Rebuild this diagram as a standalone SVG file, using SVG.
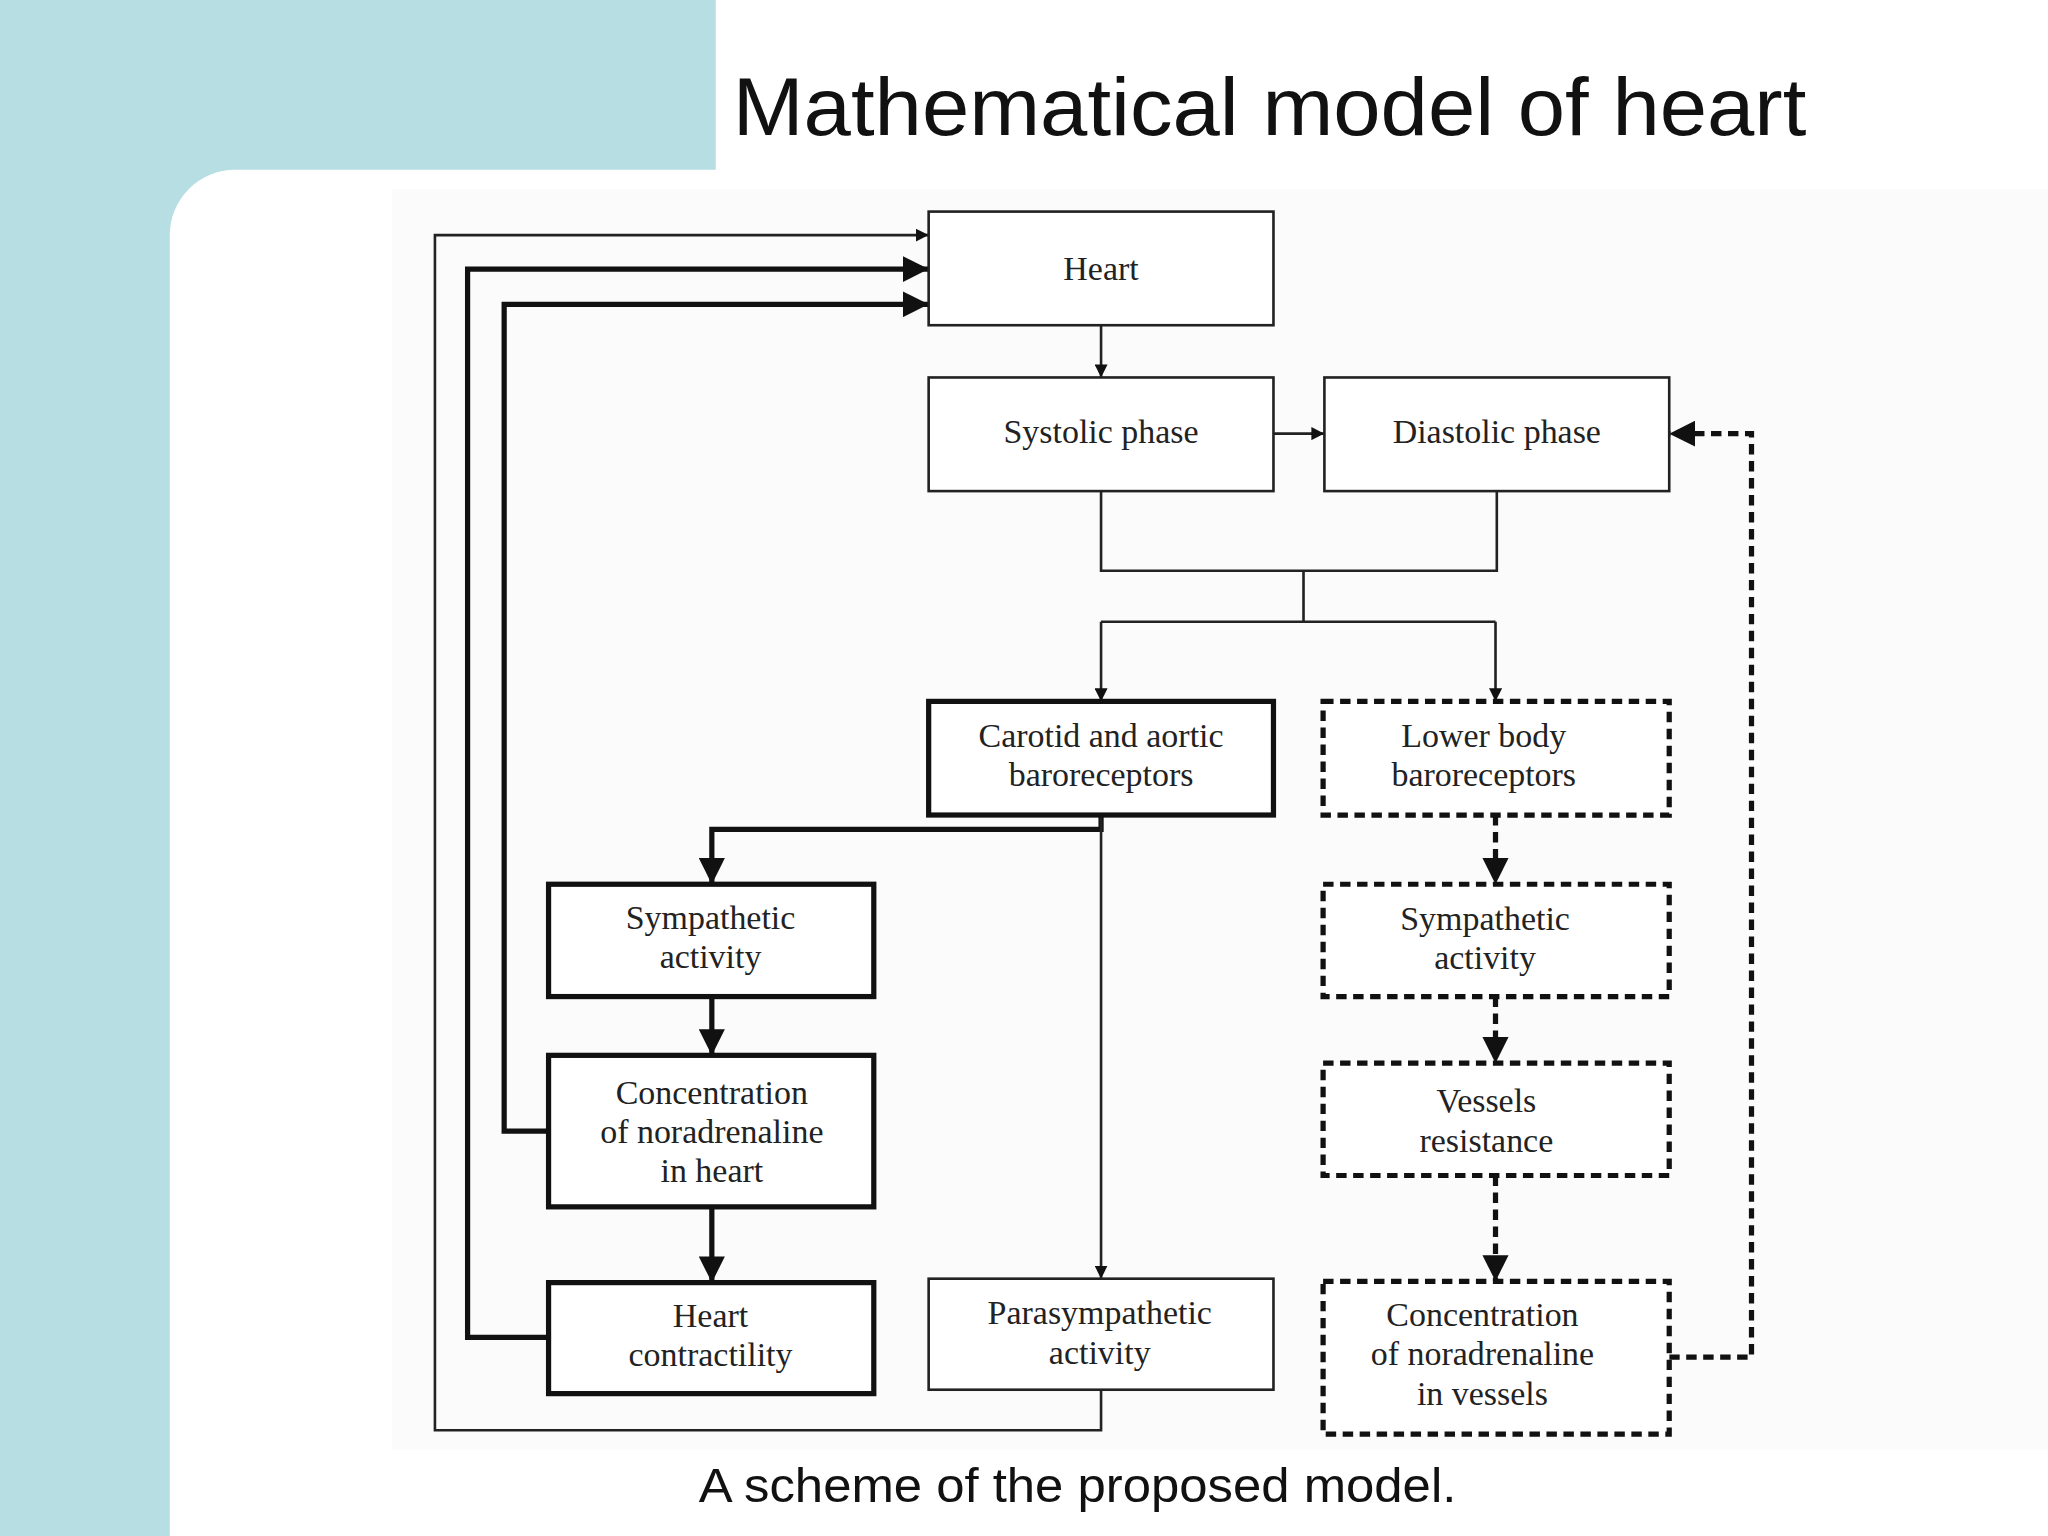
<svg xmlns="http://www.w3.org/2000/svg" width="2048" height="1536" viewBox="0 0 2048 1536">
<defs>
<style>
.n{fill:#fff;stroke:#222;stroke-width:2}
.k{fill:#fff;stroke:#111;stroke-width:4}
.d{fill:#fff;stroke:#111;stroke-width:4;stroke-dasharray:8 5}
.t{font-family:"Liberation Serif",serif;font-size:26px;fill:#222;text-anchor:middle}
.c{fill:none;stroke:#222;stroke-width:2}
.ck{fill:none;stroke:#111;stroke-width:4}
.cd{fill:none;stroke:#111;stroke-width:4;stroke-dasharray:8 5}
</style>
<marker id="b" viewBox="0 0 10 10" refX="10" refY="5" markerWidth="5" markerHeight="5" orient="auto"><path d="M0,0L10,5L0,10z" fill="#111"/></marker>
</defs>
<rect width="2048" height="1536" fill="#b7dfe3"/>
<g transform="scale(1.30612)">
<path d="M548,0H1568V1176H130V180A50,50 0 0 1 180,130H548z" fill="#fff"/>
<rect x="300" y="145" width="1268" height="965" fill="#fbfbfb"/>
<text x="561" y="103" font-family="Liberation Sans,Arial,sans-serif" font-size="63" fill="#111" textLength="822" lengthAdjust="spacingAndGlyphs">Mathematical model of heart</text>
<text x="535" y="1150" font-family="Liberation Sans,Arial,sans-serif" font-size="37" fill="#111" textLength="580" lengthAdjust="spacingAndGlyphs">A scheme of the proposed model.</text>
<g id="connectors">
<path class="c" d="M843,249V289" marker-end="url(#b)"/>
<path class="c" d="M975,332H1014" marker-end="url(#b)"/>
<path class="c" d="M843,376V437H1146V376M998,437V476M843,476H1145"/>
<path class="c" d="M843,476V537" marker-end="url(#b)"/>
<path class="c" d="M1145,476V537" marker-end="url(#b)"/>
<path class="ck" d="M843,624V635H545V677" marker-end="url(#b)"/>
<path class="c" d="M843,624V979" marker-end="url(#b)"/>
<path class="ck" d="M545,763V808" marker-end="url(#b)"/>
<path class="ck" d="M545,924V982" marker-end="url(#b)"/>
<path class="ck" d="M420,866H386V233H711" marker-end="url(#b)"/>
<path class="ck" d="M420,1024H358V206H711" marker-end="url(#b)"/>
<path class="c" d="M843,1064V1095H333V180H711" marker-end="url(#b)"/>
<path class="cd" d="M1145,624V677" marker-end="url(#b)"/>
<path class="cd" d="M1145,763V814" marker-end="url(#b)"/>
<path class="cd" d="M1145,900V981" marker-end="url(#b)"/>
<path class="cd" d="M1278,1039H1341V332H1278" marker-end="url(#b)"/>
</g>
<g id="heart"><rect class="n" x="711" y="162" width="264" height="87"/><text class="t" x="843" y="214">Heart</text></g>
<g id="systolic"><rect class="n" x="711" y="289" width="264" height="87"/><text class="t" x="843" y="339">Systolic phase</text></g>
<g id="diastolic"><rect class="n" x="1014" y="289" width="264" height="87"/><text class="t" x="1146" y="339">Diastolic phase</text></g>
<g id="carotid"><rect class="k" x="711" y="537" width="264" height="87"/><text class="t" x="843" y="572">Carotid and aortic</text><text class="t" x="843" y="602">baroreceptors</text></g>
<g id="lowerbody"><rect class="d" x="1013" y="537" width="265" height="87"/><text class="t" x="1136" y="572">Lower body</text><text class="t" x="1136" y="602">baroreceptors</text></g>
<g id="sympL"><rect class="k" x="420" y="677" width="249" height="86"/><text class="t" x="544" y="711">Sympathetic</text><text class="t" x="544" y="741">activity</text></g>
<g id="concHeart"><rect class="k" x="420" y="808" width="249" height="116"/><text class="t" x="545" y="845">Concentration</text><text class="t" x="545" y="875">of noradrenaline</text><text class="t" x="545" y="905">in heart</text></g>
<g id="contractility"><rect class="k" x="420" y="982" width="249" height="85"/><text class="t" x="544" y="1016">Heart</text><text class="t" x="544" y="1046">contractility</text></g>
<g id="parasymp"><rect class="n" x="711" y="979" width="264" height="85"/><text class="t" x="842" y="1014">Parasympathetic</text><text class="t" x="842" y="1044">activity</text></g>
<g id="sympR"><rect class="d" x="1013" y="677" width="265" height="86"/><text class="t" x="1137" y="712">Sympathetic</text><text class="t" x="1137" y="742">activity</text></g>
<g id="vessels"><rect class="d" x="1013" y="814" width="265" height="86"/><text class="t" x="1138" y="851">Vessels</text><text class="t" x="1138" y="882">resistance</text></g>
<g id="concVessels"><rect class="d" x="1013" y="981" width="265" height="117"/><text class="t" x="1135" y="1015">Concentration</text><text class="t" x="1135" y="1045">of noradrenaline</text><text class="t" x="1135" y="1076">in vessels</text></g>
</g>
</svg>
